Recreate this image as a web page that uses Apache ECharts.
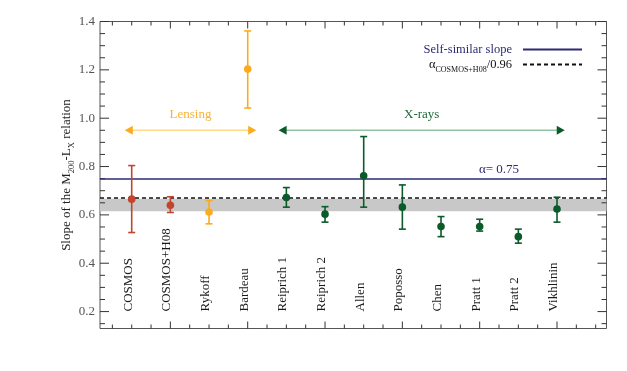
<!DOCTYPE html>
<html><head><meta charset="utf-8">
<script src="https://cdn.jsdelivr.net/npm/echarts@6/dist/echarts.min.js"></script>
<style>html,body{margin:0;padding:0;background:#fff}#c{width:627px;height:371px}</style>
</head><body><div id="c"></div>
<script>
// ---- data ----
const categories = ['COSMOS','COSMOS+H08','Rykoff','Bardeau','Reiprich 1','Reiprich 2','Allen','Poposso','Chen','Pratt 1','Pratt 2','Vikhlinin'];
const slope   = [0.665, 0.64, 0.612, 1.203, 0.672, 0.603, 0.762, 0.632, 0.552, 0.552, 0.510, 0.624];
const errLow  = [0.527, 0.61, 0.563, 1.042, 0.632, 0.570, 0.632, 0.541, 0.510, 0.533, 0.483, 0.570];
const errHigh = [0.804, 0.675, 0.659, 1.361, 0.713, 0.634, 0.924, 0.724, 0.593, 0.582, 0.541, 0.673];
const groups  = ['cosmos','cosmos','lensing','lensing','xray','xray','xray','xray','xray','xray','xray','xray'];
const selfSimilar = 0.75;
const ratioDivisor = 0.96;
const bandRange = [0.615, 0.667];
const yTickValues = [0.2, 0.4, 0.6, 0.8, 1.0, 1.2, 1.4];
const yMinorTicks = [0.15,0.25,0.3,0.35,0.45,0.5,0.55,0.65,0.7,0.75,0.85,0.9,0.95,1.05,1.1,1.15,1.25,1.3,1.35];
const xMajorTicks = [2,4,6,8,10,12];
const xMinorTicks = [0.5,1,1.5,2.5,3,3.5,4.5,5,5.5,6.5,7,7.5,8.5,9,9.5,10.5,11,11.5,12.5,13];
const xRange = [0.18, 13.28];
const yRange = [0.13, 1.4];
const lensingArrow = [0.82, 4.22];
const xrayArrow = [4.8, 12.2];
const arrowLevel = 0.95;
const alphaLabelX = 10.5;

const FONT = '"Liberation Serif","DejaVu Serif",serif';
const NAVY = '#2d2a72';
const colors = {cosmos:'#c2452d', lensing:'#fbab1c', xray:'#0b5a2a'};

function groupData(g){
  const out = [];
  for (let i = 0; i < categories.length; i++) if (groups[i] === g) out.push([i+1, slope[i], errLow[i], errHigh[i]]);
  return out;
}
function errRender(params, api){
  const x = api.value(0);
  const c = api.coord([x, api.value(1)]);
  const lo = api.coord([x, api.value(2)]);
  const hi = api.coord([x, api.value(3)]);
  const color = api.visual('color');
  const cap = 3.5, st = {stroke: color, lineWidth: 1.6};
  return {type:'group', children:[
    {type:'line', shape:{x1:c[0], y1:lo[1], x2:c[0], y2:hi[1]}, style:st},
    {type:'line', shape:{x1:c[0]-cap, y1:lo[1], x2:c[0]+cap, y2:lo[1]}, style:st},
    {type:'line', shape:{x1:c[0]-cap, y1:hi[1], x2:c[0]+cap, y2:hi[1]}, style:st},
    {type:'circle', shape:{cx:c[0], cy:c[1], r:3.8}, style:{fill:color}}
  ]};
}
function xTick(len){
  return function(params, api){
    const cs = params.coordSys;
    const x = api.coord([api.value(0), yRange[0]])[0];
    const b = cs.y + cs.height, t = cs.y;
    const st = {stroke:'#333', lineWidth:1};
    return {type:'group', children:[
      {type:'line', shape:{x1:x, y1:b, x2:x, y2:b-len}, style:st},
      {type:'line', shape:{x1:x, y1:t, x2:x, y2:t+len}, style:st}
    ]};
  };
}
function yTick(len){
  return function(params, api){
    const cs = params.coordSys;
    const y = api.coord([xRange[0], api.value(1)])[1];
    const l = cs.x, r = cs.x + cs.width;
    const st = {stroke:'#333', lineWidth:1};
    return {type:'group', children:[
      {type:'line', shape:{x1:l, y1:y, x2:l+len, y2:y}, style:st},
      {type:'line', shape:{x1:r, y1:y, x2:r-len, y2:y}, style:st}
    ]};
  };
}
function catLabels(params, api){
  const cs = params.coordSys;
  const x = api.coord([api.value(0), yRange[0]])[0];
  return {type:'text', x: x - 3.5, y: cs.y + cs.height - 17, rotation: Math.PI/2,
    style:{text: categories[params.dataIndex], font: '13px ' + FONT, fill:'#1a1a1a', align:'left', verticalAlign:'middle'}};
}
function annotations(params, api){
  const children = [];
  function arrow(r, lineColor, headColor, text, textColor){
    const a = api.coord([r[0], arrowLevel]), b = api.coord([r[1], arrowLevel]);
    const hl = 8, hw = 4.5;
    children.push({type:'line', shape:{x1:a[0]+hl-1, y1:a[1], x2:b[0]-hl+1, y2:b[1]}, style:{stroke:lineColor, lineWidth:1.5}});
    children.push({type:'polygon', shape:{points:[[a[0],a[1]],[a[0]+hl,a[1]-hw],[a[0]+hl,a[1]+hw]]}, style:{fill:headColor}});
    children.push({type:'polygon', shape:{points:[[b[0],b[1]],[b[0]-hl,b[1]-hw],[b[0]-hl,b[1]+hw]]}, style:{fill:headColor}});
    children.push({type:'text', x:(a[0]+b[0])/2, y:a[1]-16, style:{text:text, font:'13px ' + FONT, fill:textColor, align:'center', verticalAlign:'middle'}});
  }
  arrow(lensingArrow, '#ffd98c', '#fbab1c', 'Lensing', '#f9b233');
  arrow(xrayArrow, '#93c3a2', '#0b5a2a', 'X-rays', '#1d6a37');
  const p = api.coord([alphaLabelX, selfSimilar]);
  children.push({type:'text', x:p[0], y:p[1]-9, style:{text:'\u03b1= 0.75', font:'13px ' + FONT, fill:NAVY, align:'center', verticalAlign:'middle'}});
  return {type:'group', children};
}

const ratioName = '\u03b1COSMOS+H08/0.96';
const chart = echarts.init(document.getElementById('c'), null, {renderer:'canvas'});
chart.setOption({
  animation:false,
  backgroundColor:'#fff',
  grid:{left:100, top:21.5, width:506.5, height:307, show:true, borderColor:'#555', borderWidth:1, backgroundColor:'transparent'},
  xAxis:{type:'value', min:xRange[0], max:xRange[1], axisLine:{show:false}, axisTick:{show:false}, axisLabel:{show:false}, splitLine:{show:false}},
  yAxis:{type:'value', min:yRange[0], max:yRange[1], splitNumber:6,
    axisLine:{show:false}, axisTick:{show:false}, splitLine:{show:false},
    axisLabel:{margin:5, color:'#555', fontFamily:FONT, fontSize:13, showMinLabel:false,
      formatter: v => yTickValues.some(t => Math.abs(t - v) < 1e-6) ? v.toFixed(1) : ''},
    name:'{n|Slope of the M}{s|200}{n|-L}{s|X}{n| relation}', nameLocation:'middle', nameRotate:90, nameGap:27,
    nameMoveOverlap:false,
    nameTextStyle:{fontFamily:FONT, fontSize:13, color:'#222', rich:{
      n:{fontFamily:FONT, fontSize:13, color:'#222'},
      s:{fontFamily:FONT, fontSize:8.5, color:'#222', verticalAlign:'bottom', padding:[0,0,-3,0]}}}
  },
  legend:{orient:'vertical', right:39, top:38, align:'right', itemWidth:59, itemHeight:12, itemGap:2,
    itemStyle:{opacity:0},
    data:[{name:'Self-similar slope', textStyle:{color:NAVY}}, {name:ratioName, textStyle:{color:'#111'}}],
    formatter: n => n === 'Self-similar slope' ? n : '{a|\u03b1}{s|COSMOS+H08}{a|/0.96}',
    textStyle:{fontFamily:FONT, fontSize:12.5, padding:[0,6,0,0], rich:{
      a:{fontFamily:FONT, fontSize:12.5, color:'#111'},
      s:{fontFamily:FONT, fontSize:8, color:'#111', verticalAlign:'bottom', padding:[0,0,-3,0]}}}
  },
  series:[
    {type:'line', name:'band', data:[], z:1, silent:true,
      markArea:{silent:true, itemStyle:{color:'#c8c8c9'}, data:[[{yAxis:bandRange[0]},{yAxis:bandRange[1]}]]}},
    {type:'line', name:ratioName, data:[], z:3, symbol:'none', lineStyle:{color:'#111', width:1.6, type:[4,3]},
      markLine:{silent:true, symbol:'none', label:{show:false}, lineStyle:{color:'#111', width:1.6, type:[4,3]},
        data:[{yAxis: slope[1] / ratioDivisor}]}},
    {type:'line', name:'Self-similar slope', data:[], z:3, symbol:'none', lineStyle:{color:NAVY, width:1.6},
      markLine:{silent:true, symbol:'none', label:{show:false}, lineStyle:{color:NAVY, width:1.6, type:'solid'},
        data:[{yAxis:selfSimilar}]}},
    {type:'custom', name:'xMajor', silent:true, clip:false, z:4, renderItem:xTick(7), data:xMajorTicks.map(v=>[v, yRange[0]])},
    {type:'custom', name:'xMinor', silent:true, clip:false, z:4, renderItem:xTick(4), data:xMinorTicks.map(v=>[v, yRange[0]])},
    {type:'custom', name:'yMajor', silent:true, clip:false, z:4, renderItem:yTick(9), data:yTickValues.map(v=>[xRange[0], v])},
    {type:'custom', name:'yMinor', silent:true, clip:false, z:4, renderItem:yTick(5), data:yMinorTicks.map(v=>[xRange[0], v])},
    {type:'custom', name:'labels', silent:true, clip:false, z:5, renderItem:catLabels, data:categories.map((c,i)=>[i+1, yRange[0]])},
    {type:'custom', name:'annotations', silent:true, clip:false, z:5, renderItem:annotations, data:[[xRange[0], yRange[0]]]},
    {type:'custom', name:'COSMOS', z:6, itemStyle:{color:colors.cosmos}, renderItem:errRender, data:groupData('cosmos')},
    {type:'custom', name:'Lensing', z:6, itemStyle:{color:colors.lensing}, renderItem:errRender, data:groupData('lensing')},
    {type:'custom', name:'X-rays', z:6, itemStyle:{color:colors.xray}, renderItem:errRender, data:groupData('xray')}
  ]
});
</script></body></html>
